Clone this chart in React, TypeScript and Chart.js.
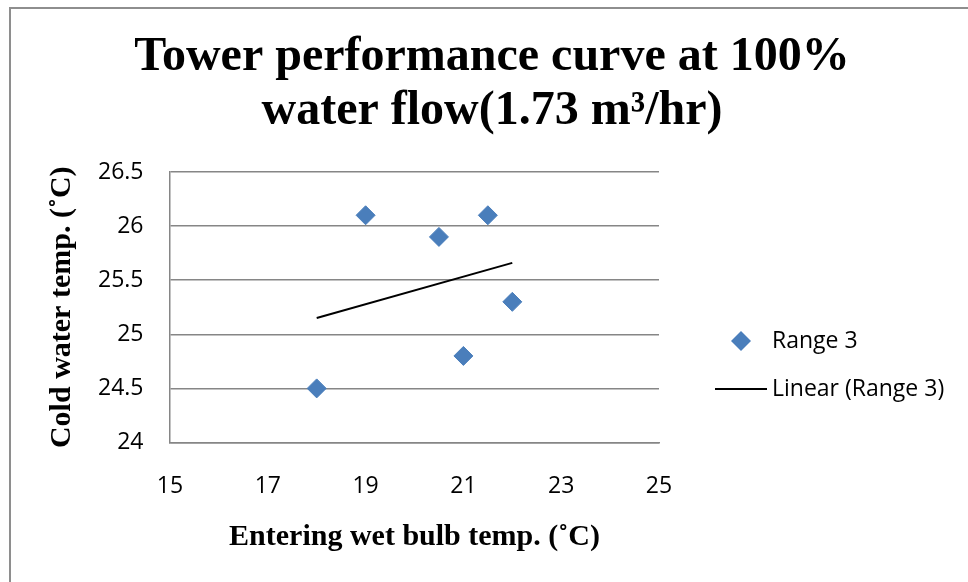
import React, { useEffect, useRef } from "react";
import { Chart, registerables } from "chart.js";

Chart.register(...registerables);

// ---- data ----
const titleLines = ["Tower performance curve at 100%", "water flow(1.73 m³/hr)"];
const xAxisTitle = "Entering wet bulb temp. (˚C)";
const yAxisTitle = "Cold water temp. (˚C)";
const seriesName = "Range 3";
const trendName = "Linear (Range 3)";
const xValues = [18, 19, 20.5, 21, 21.5, 22];
const yValues = [24.5, 26.1, 25.9, 24.8, 26.1, 25.3];
const trendX = [18, 22];
const trendY = [25.15, 25.66];
const xTicks = [15, 17, 19, 21, 23, 25];
const yTicks = [24, 24.5, 25, 25.5, 26, 26.5];

const MARKER = "#4A7EBB";
const GRID = "#868686";
const TICK_FONT = { family: "'Open Sans'", size: 23 };
const AXIS_TITLE_FONT = { family: "'Liberation Serif'", size: 30, weight: "bold" as const, lineHeight: 1.2 };

const sideLegend = {
  id: "sideLegend",
  afterDraw(chart: any) {
    const { ctx, chartArea } = chart;
    const lineStart = chartArea.right + 56;
    const lineEnd = chartArea.right + 108;
    const textX = chartArea.right + 113;
    const y1 = chartArea.top + 169;
    const y2 = chartArea.top + 217;
    ctx.save();
    const cx = (lineStart + lineEnd) / 2;
    const r = 10;
    ctx.beginPath();
    ctx.moveTo(cx - r, y1);
    ctx.lineTo(cx, y1 - r);
    ctx.lineTo(cx + r, y1);
    ctx.lineTo(cx, y1 + r);
    ctx.closePath();
    ctx.fillStyle = MARKER;
    ctx.fill();
    ctx.beginPath();
    ctx.moveTo(lineStart, y2);
    ctx.lineTo(lineEnd, y2);
    ctx.strokeStyle = "#000";
    ctx.lineWidth = 2;
    ctx.stroke();
    ctx.fillStyle = "#000";
    ctx.font = `${TICK_FONT.size}px ${TICK_FONT.family}`;
    ctx.textBaseline = "middle";
    ctx.textAlign = "left";
    ctx.fillText(seriesName, textX, y1);
    ctx.fillText(trendName, textX, y2);
    ctx.restore();
  },
};

export default function App() {
  const ref = useRef<HTMLCanvasElement | null>(null);

  useEffect(() => {
    if (!ref.current) return;
    const chart = new Chart(ref.current, {
      type: "scatter",
      data: {
        datasets: [
          {
            label: seriesName,
            data: xValues.map((x, i) => ({ x, y: yValues[i] })),
            pointStyle: "rectRot",
            pointRadius: 9.5,
            pointHoverRadius: 9.5,
            backgroundColor: MARKER,
            borderColor: MARKER,
            borderWidth: 1,
            order: 1,
          },
          {
            label: trendName,
            data: trendX.map((x, i) => ({ x, y: trendY[i] })),
            showLine: true,
            pointRadius: 0,
            pointHoverRadius: 0,
            borderColor: "#000",
            borderWidth: 2,
            backgroundColor: "#000",
            order: 2,
          },
        ],
      },
      options: {
        animation: false,
        responsive: false,
        events: [],
        layout: { padding: 0 },
        plugins: {
          legend: { display: false },
          tooltip: { enabled: false },
          title: {
            display: true,
            text: titleLines,
            color: "#000",
            font: { family: "'Liberation Serif'", size: 48, weight: "bold", lineHeight: 54 / 48 },
            padding: { top: 21.1, bottom: 33.9 },
          },
        },
        scales: {
          x: {
            type: "linear",
            position: "bottom",
            min: xTicks[0],
            max: xTicks[xTicks.length - 1],
            afterBuildTicks: (s: any) => {
              s.ticks = xTicks.map((v) => ({ value: v }));
            },
            ticks: { font: TICK_FONT, color: "#000", padding: 30, callback: (v: any) => String(v) },
            grid: { display: false, drawTicks: false },
            border: { display: true, color: GRID, width: 1.5 },
            title: {
              display: true,
              text: xAxisTitle,
              color: "#000",
              font: AXIS_TITLE_FONT,
              padding: { top: 0, bottom: 26.5 },
            },
            afterFit: (s: any) => {
              s.height = 139.5;
            },
          },
          y: {
            type: "linear",
            position: "left",
            min: yTicks[0],
            max: yTicks[yTicks.length - 1],
            afterBuildTicks: (s: any) => {
              s.ticks = yTicks.map((v) => ({ value: v }));
            },
            ticks: { font: TICK_FONT, color: "#000", padding: 26.5, callback: (v: any) => String(v) },
            grid: { color: GRID, lineWidth: 1.5, drawTicks: false },
            border: { display: true, color: GRID, width: 1.5 },
            title: {
              display: true,
              text: yAxisTitle,
              color: "#000",
              font: AXIS_TITLE_FONT,
              padding: { top: 33, bottom: 0 },
            },
            afterFit: (s: any) => {
              s.width = 159;
            },
          },
          legendSpace: {
            type: "linear",
            position: "right",
            display: true,
            ticks: { display: false },
            grid: { display: false, drawTicks: false },
            border: { display: false },
            afterFit: (s: any) => {
              s.width = 314;
            },
          },
        },
      },
      plugins: [sideLegend],
    });
    return () => chart.destroy();
  }, []);

  return (
    <div
      style={{
        position: "fixed",
        left: 0,
        top: 0,
        width: 968,
        height: 582,
        overflow: "hidden",
        background: "#fff",
      }}
    >
      <div
        style={{
          position: "absolute",
          left: 9,
          top: 7,
          width: 970,
          height: 590,
          borderLeft: "2px solid #8e8e8e",
          borderTop: "2px solid #8e8e8e",
        }}
      >
        <canvas ref={ref} width={962} height={573} style={{ display: "block" }} />
      </div>
    </div>
  );
}
